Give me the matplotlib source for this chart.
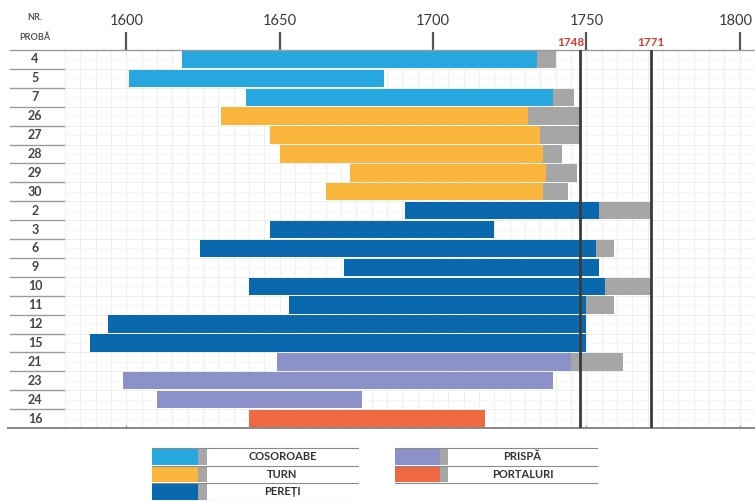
import matplotlib
matplotlib.use("Agg")
import matplotlib.pyplot as plt
from matplotlib.patches import Rectangle
from matplotlib.lines import Line2D
import matplotlib.transforms as mtransforms

# ---------------- data ----------------
samples = ["4", "5", "7", "26", "27", "28", "29", "30", "2", "3", "6", "9",
           "10", "11", "12", "15", "21", "23", "24", "16"]
groups = (["COSOROABE"] * 3 + ["TURN"] * 5 + ["PEREȚI"] * 8 +
          ["PRISPĂ"] * 3 + ["PORTALURI"])
ring_start = [1618, 1601, 1639, 1631, 1647, 1650, 1673, 1665, 1691, 1647,
              1624, 1671, 1640, 1653, 1594, 1588, 1649, 1599, 1610, 1640]
ring_end = [1734, 1684, 1739, 1731, 1735, 1736, 1737, 1736, 1754, 1720,
            1753, 1754, 1756, 1750, 1750, 1750, 1745, 1739, 1677, 1717]
sapwood_end = [1740, None, 1746, 1748, 1748, 1742, 1747, 1744, 1771, None,
               1759, None, 1771, 1759, None, None, 1762, None, None, None]
year_ticks = [1600, 1650, 1700, 1750, 1800]
marker_years = [1748, 1771]
group_colors = {"COSOROABE": "#27A7E0", "TURN": "#F9B53C", "PEREȚI": "#0A68AE",
                "PRISPĂ": "#8C92C9", "PORTALURI": "#EE6841"}
legend_left = ["COSOROABE", "TURN", "PEREȚI"]
legend_right = ["PRISPĂ", "PORTALURI"]
GRAY = "#A6A6A6"

W, H = 755, 501
plt.rcParams['font.family'] = ['Lato', 'DejaVu Sans']

fig = plt.figure(figsize=(W / 100, H / 100), dpi=100)

def fx(x):
    return x / W

def fy(y):
    return 1 - y / H

ax_left, ax_right, ax_top, ax_bot = 65, 755, 50, 428
ax = fig.add_axes([fx(ax_left), fy(ax_bot), fx(ax_right - ax_left), (ax_bot - ax_top) / H])

n = len(samples)
ys = list(range(n))

# grid
ax.set_xlim(1580, 1805)
ax.set_ylim(n - 0.5, -0.5)
for yr in range(1580, 1806, 5):
    ax.axvline(yr, color="#ebebeb", lw=0.6, zorder=0)
for i in range(n + 1):
    ax.axhline(i - 0.5, color="#ebebeb", lw=0.6, zorder=0)
    ax.axhline(i, color="#f3f3f3", lw=0.5, zorder=0)

# bars
for i in ys:
    c = group_colors[groups[i]]
    ax.barh(i, ring_end[i] - ring_start[i], left=ring_start[i], height=0.92,
            color=c, edgecolor="none", zorder=2)
    if sapwood_end[i] is not None:
        ax.barh(i, sapwood_end[i] - ring_end[i], left=ring_end[i], height=0.92,
                color=GRAY, edgecolor="none", zorder=2)

# marker lines
for yr in marker_years:
    ax.axvline(yr, color="#3a3a3a", lw=2.0, zorder=3)
marker_label_x = [1745, 1771]
for yr, xl in zip(marker_years, marker_label_x):
    ax.text(xl, -0.62, str(yr), color="#E03A2E", fontsize=8.5, fontweight="bold",
            ha="center", va="bottom", zorder=4, clip_on=False)

# axes styling
ax.xaxis.tick_top()
ax.set_xticks(year_ticks)
ax.set_xticklabels([str(t) for t in year_ticks])
ax.tick_params(axis="x", top=True, bottom=False, length=13, width=1.6,
               color="#555555", labelsize=10.5, labelcolor="#3a3a3a", pad=3)
last = ax.get_xticklabels()[-1]
last.set_transform(last.get_transform() +
                   mtransforms.ScaledTranslation(-4 / 100, 0, fig.dpi_scale_trans))
ax.set_yticks([])
for s in ["left", "right"]:
    ax.spines[s].set_visible(False)
ax.spines["top"].set_color("#9a9a9a")
ax.spines["top"].set_linewidth(1.0)
ax.spines["bottom"].set_color("#888888")
ax.spines["bottom"].set_linewidth(1.4)
for t in year_ticks:
    ax.plot([t, t], [n - 0.5, n - 0.62], color="#888888", lw=1, clip_on=False)

# left label column
trans = mtransforms.blended_transform_factory(fig.transFigure, ax.transData)
for i, lab in enumerate(samples):
    ax.text(fx(35), i, lab, transform=trans, ha="center", va="center",
            fontsize=9, fontweight="bold", color="#444444")
for i in range(1, n):
    ax.add_line(Line2D([fx(10), fx(64)], [i - 0.5, i - 0.5], transform=trans,
                       color="#999999", lw=1.0, clip_on=False))
fig.add_artist(Line2D([fx(10), fx(65)], [fy(50), fy(50)], color="#9a9a9a", lw=1.0))
fig.add_artist(Line2D([fx(8), fx(65)], [fy(428), fy(428)], color="#888888", lw=1.4))
fig.text(fx(35), fy(17), "NR.", ha="center", va="center", fontsize=6.5,
         fontweight="bold", color="#555555")
fig.text(fx(35), fy(37), "PROBĂ", ha="center", va="center", fontsize=6.5,
         fontweight="bold", color="#555555")

# legend (manual, table-like)
row_top = 448
row_h = 17.5

def legend_column(names, x0, sw_w, strip_w, x_right):
    for k, name in enumerate(names):
        y0 = row_top + k * row_h
        fig.add_artist(Rectangle((fx(x0), fy(y0 + row_h - 1)), fx(sw_w), (row_h - 2) / H,
                                 color=group_colors[name], lw=0))
        fig.add_artist(Rectangle((fx(x0 + sw_w), fy(y0 + row_h - 1)), fx(strip_w), (row_h - 2) / H,
                                 color=GRAY, lw=0))
        cx = (x0 + sw_w + strip_w + x_right) / 2
        fig.text(fx(cx), fy(y0 + row_h / 2), name, ha="center", va="center",
                 fontsize=8, fontweight="bold", color="#333333")
    for k in range(len(names) + 1):
        y = row_top + k * row_h
        fig.add_artist(Line2D([fx(x0), fx(x_right)], [fy(y), fy(y)], color="#8a8a8a", lw=0.8))

legend_column(legend_left, 152, 46, 9, 358)
legend_column(legend_right, 395, 45, 8, 597)

fig.savefig("out.png", dpi=100)
